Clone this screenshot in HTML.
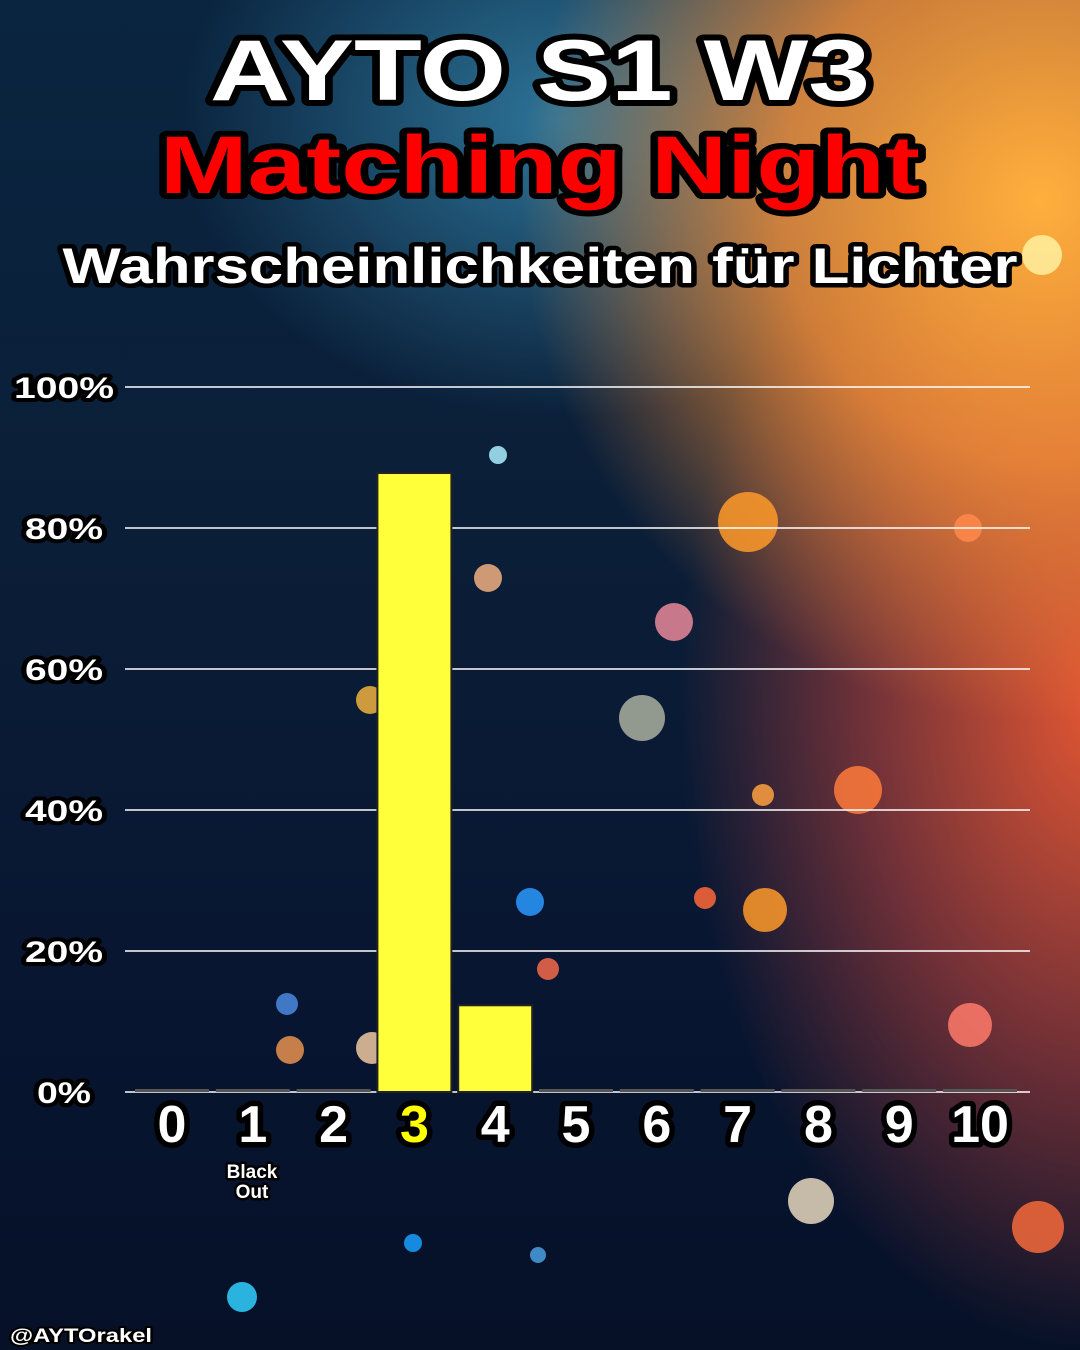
<!DOCTYPE html>
<html><head><meta charset="utf-8"><style>
html,body{margin:0;padding:0}
body{width:1080px;height:1350px;position:relative;overflow:hidden;font-family:"Liberation Sans",sans-serif;
background:
radial-gradient(ellipse 520px 520px at 1040px 200px, rgba(255,175,60,1), rgba(250,145,55,0.8) 50%, rgba(255,120,50,0) 100%),
radial-gradient(ellipse 420px 650px at 1100px 700px, rgba(240,90,50,0.95), rgba(200,70,60,0.55) 55%, rgba(0,0,0,0) 100%),
radial-gradient(ellipse 380px 300px at 560px 120px, rgba(60,150,190,0.7), rgba(0,0,0,0) 100%),
linear-gradient(180deg,#0a2540 0%,#0b1d36 45%,#081632 70%,#061128 100%);}
svg{position:absolute;left:0;top:0}
.t{font-weight:900;fill:#fff;stroke:#000;paint-order:stroke;stroke-linejoin:round}
</style></head><body>
<svg width="1080" height="1350">
<g id="deco"></g>
<text class="t" x="540" y="100" text-anchor="middle" font-size="86" stroke-width="12" textLength="660" lengthAdjust="spacingAndGlyphs">AYTO S1 W3</text>
<text class="t" x="540" y="193" text-anchor="middle" font-size="82" stroke-width="12" style="fill:#f00" textLength="760" lengthAdjust="spacingAndGlyphs">Matching Night</text>
<text class="t" x="540" y="283" text-anchor="middle" font-size="50" stroke-width="9" textLength="955" lengthAdjust="spacingAndGlyphs">Wahrscheinlichkeiten für Lichter</text>
<g id="grid"></g><g id="bars"></g><g id="xl"></g>
<text class="t" x="252" y="1178" text-anchor="middle" font-size="19" stroke-width="5">Black</text>
<text class="t" x="252" y="1198" text-anchor="middle" font-size="19" stroke-width="5">Out</text>
<text class="t" x="10" y="1342" font-size="19" stroke-width="4" textLength="142" lengthAdjust="spacingAndGlyphs">@AYTOrakel</text>
</svg>
<script>
const categories=["0","1","2","3","4","5","6","7","8","9","10"];
const values=[0,0,0,87.8,12.3,0,0,0,0,0,0];
const yTicks=[0,20,40,60,80,100];
const NS="http://www.w3.org/2000/svg";
const y=v=>1092-v*7.05;
const x=i=>172+i*80.8;
function mk(tag,at,p){const e=document.createElementNS(NS,tag);for(const k in at)e.setAttribute(k,at[k]);p.appendChild(e);return e;}
const deco=document.getElementById('deco');
[[748,522,30,"#ff9a2a"],[858,790,24,"#ff7a3a"],[765,910,22,"#ff9a2a"],[642,718,23,"#aab0a0"],[674,622,19,"#e98a9a"],[970,1025,22,"#ff7a6a"],[1038,1227,26,"#f46a3a"],[811,1201,23,"#e8d8c0"],[242,1297,15,"#33d0ff"],[530,902,14,"#2a9aff"],[287,1004,11,"#4a8ae0"],[498,455,9,"#aaf0ff"],[548,969,11,"#f46a4a"],[968,528,14,"#ff8a4a"],[705,898,11,"#ff6a3a"],[763,795,11,"#ffa040"],[1042,255,20,"#fff0a0"],[413,1243,9,"#1aa0ff"],[538,1255,8,"#4aa0e0"],[290,1050,14,"#e89050"],[372,1048,16,"#f0c8a0"],[488,578,14,"#f0b080"],[370,700,14,"#f0b040"]].forEach(c=>{
 const e=mk('circle',{cx:c[0],cy:c[1],r:c[2],fill:c[3],opacity:0.85},deco);
 
 
});
const grid=document.getElementById('grid');
yTicks.forEach(t=>{
 const l=mk('line',{x1:125,x2:1030,y1:y(t),y2:y(t),stroke:"#fff","stroke-width":1.5},grid);
 
 
 const tx=mk('text',{x:64,y:y(t)+11,"text-anchor":"middle","font-size":30,"stroke-width":8,class:"t",textLength:t===100?100:(t===0?54:78),lengthAdjust:"spacingAndGlyphs"},grid);
 tx.textContent=t+"%";
 
 
});
const bars=document.getElementById('bars');
values.forEach((v,i)=>{
 if(v>0){
  const r=mk('rect',{x:x(i)-37,y:y(v),width:74,height:y(0)-y(v),fill:"#ffff3a",stroke:"#222","stroke-width":2},bars);
  
  
 } else {
  const r=mk('rect',{x:x(i)-37,y:1089,width:74,height:3,fill:"#555"},bars);
  
  
 }
});
const xl=document.getElementById('xl');
categories.forEach((c,i)=>{
 const t=mk('text',{x:x(i),y:1142,"text-anchor":"middle","font-size":52,"stroke-width":11,class:"t"},xl);
 if(c==="3")t.style.fill="#ffff00";
 t.textContent=c;
 
 
});
</script>
</body></html>
